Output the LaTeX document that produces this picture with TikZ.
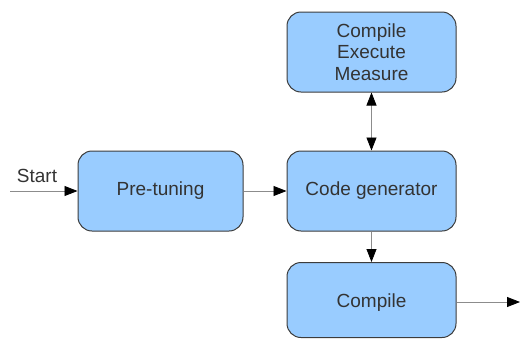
\documentclass[tikz,border=0pt]{standalone}
\usepackage{fontspec}
\setmainfont{Liberation Sans}
\usetikzlibrary{arrows.meta}
\definecolor{boxfill}{HTML}{99CCFF}
\definecolor{boxline}{HTML}{3C3C3C}
\definecolor{txt}{HTML}{333333}
\definecolor{conn}{HTML}{8C8C8C}
\tikzset{tip/.tip={Triangle[length=13pt,width=10pt,fill=black,color=black]}}
\begin{document}
\begin{tikzpicture}[x=1pt,y=-1pt,
  blk/.style={draw=boxline,line width=1pt,fill=boxfill,rounded corners=14pt,
    minimum width=169pt,minimum height=80pt,text=txt,align=center,
    font=\fontsize{19}{21.5}\selectfont,inner sep=0pt},
  link/.style={draw=conn,line width=0.8pt,-tip},
  dlink/.style={draw=conn,line width=0.8pt,tip-tip}]
\useasboundingbox (0,0) rectangle (520,338);
\node[blk,minimum width=165pt] (pre) at (160.5,191) {Pre-tuning};
\node[blk] (cem) at (371.5,52) {Compile\\Execute\\Measure};
\node[blk] (gen) at (371.5,191) {Code generator};
\node[blk,minimum height=75pt,text height=15pt,text depth=1pt] (comp) at (371.5,300) {Compile};
\coordinate (s) at (10,191);
\coordinate (e) at (520,302);
\node[text=txt,font=\fontsize{19}{21}\selectfont,inner sep=0pt] (lbl) at (37,176) {Start};
\draw[link] (s) -- (pre.west);
\draw[link] (pre.east) -- (gen.west);
\draw[dlink] (cem.south) -- (gen.north);
\draw[link] (gen.south) -- (comp.north);
\draw[link] (comp.east |- e) -- (e);
\end{tikzpicture}
\end{document}
